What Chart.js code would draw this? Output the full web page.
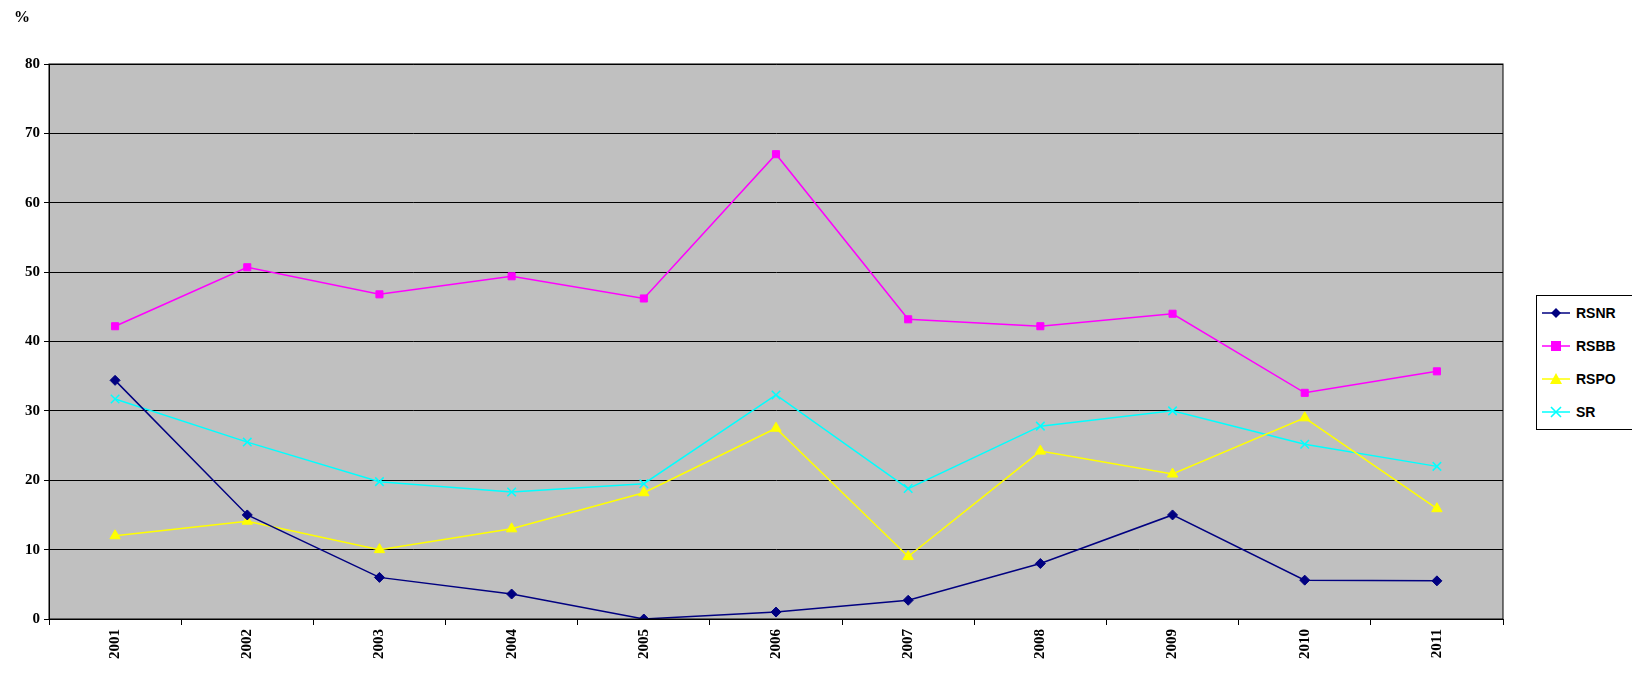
<!DOCTYPE html>
<html><head><meta charset="utf-8">
<script src="https://cdn.jsdelivr.net/npm/chart.js@4"></script>
<style>
body{margin:0;background:#fff;overflow:hidden}
#wrap{position:relative;width:1632px;height:679px}
#pct{position:absolute;left:14px;top:8px;font:bold 16px "Liberation Serif",serif}
#leg{position:absolute;left:1536px;top:295px;width:200px;height:133px;border:1px solid #000;background:#fff;font:bold 14px "Liberation Sans",Arial,sans-serif}
#leg div{height:33px;display:flex;align-items:center}
#leg svg{margin-left:5px;margin-right:6px}
</style></head><body>
<div id="wrap"><canvas id="c" width="1632" height="679"></canvas><div id="pct">%</div><div id="leg"></div></div>
<script>
const categories=['2001','2002','2003','2004','2005','2006','2007','2008','2009','2010','2011'];
const RSNR=[34.4,15,6,3.6,0,1,2.7,8,15,5.6,5.5];
const RSBB=[42.2,50.7,46.8,49.4,46.2,67,43.2,42.2,44,32.6,35.7];
const RSPO=[12,14.1,10,13,18.2,27.5,9,24.2,20.9,29,15.9];
const SR=[31.7,25.5,19.8,18.3,19.5,32.3,18.8,27.8,30,25.2,22];
const yTicks=[0,10,20,30,40,50,60,70,80];
const series=[
 {label:'RSNR',data:RSNR,color:'#000080',style:'rectRot',r:5},
 {label:'RSBB',data:RSBB,color:'#ff00ff',style:'rect',r:5},
 {label:'RSPO',data:RSPO,color:'#ffff00',style:'triangle',r:6},
 {label:'SR',data:SR,color:'#00ffff',style:'crossRot',r:6}
];
const bg={id:'bg',beforeDraw(c){const a=c.chartArea,x=c.ctx;x.save();x.fillStyle='#c0c0c0';x.fillRect(a.left,a.top,a.width,a.height);x.restore();},
 afterDraw(c){const a=c.chartArea,x=c.ctx;x.save();x.strokeStyle='#000';x.lineWidth=1;x.strokeRect(a.left,a.top,a.width,a.height);x.restore();}};
const font={family:'"Liberation Serif",serif',weight:'bold',size:15};
new Chart(document.getElementById('c'),{type:'line',
 data:{labels:categories,datasets:series.map(s=>({label:s.label,data:s.data,borderColor:s.color,backgroundColor:s.color,pointStyle:s.style,pointRadius:s.r,pointBorderWidth:s.style==='crossRot'?1.5:1,borderWidth:1.5,tension:0}))},
 options:{responsive:false,animation:false,events:[],
  layout:{padding:{top:64,right:129,left:0,bottom:0}},
  plugins:{legend:{display:false},tooltip:{enabled:false}},
  scales:{
   x:{offset:true,afterFit(s){s.height=60;},grid:{offset:true,drawOnChartArea:false,color:'#000',tickLength:6},border:{color:'#000'},
      ticks:{color:'#000',font,minRotation:90,maxRotation:90,padding:4}},
   y:{min:0,max:80,afterFit(s){s.width=49;},afterBuildTicks(s){s.ticks=yTicks.map(v=>({value:v}));},
      grid:{color:'#000',tickLength:5},border:{color:'#000'},ticks:{color:'#000',font,padding:4}}
  }},plugins:[bg]});
const leg=document.getElementById('leg');
const sym={rectRot:c=>`<polygon points="14,1 19,6 14,11 9,6" fill="${c}"/>`,rect:c=>`<rect x="9" y="1" width="10" height="10" fill="${c}"/>`,
 triangle:c=>`<polygon points="14,0 20,11 8,11" fill="${c}"/>`,crossRot:c=>`<path d="M9,1L19,11M19,1L9,11" stroke="${c}" stroke-width="1.6"/>`};
series.forEach(s=>{const d=document.createElement('div');
 d.innerHTML=`<svg width="28" height="12"><line x1="0" y1="6" x2="28" y2="6" stroke="${s.color}" stroke-width="1.5"/>${sym[s.style](s.color)}</svg>${s.label}`;leg.appendChild(d);});
</script></body></html>
